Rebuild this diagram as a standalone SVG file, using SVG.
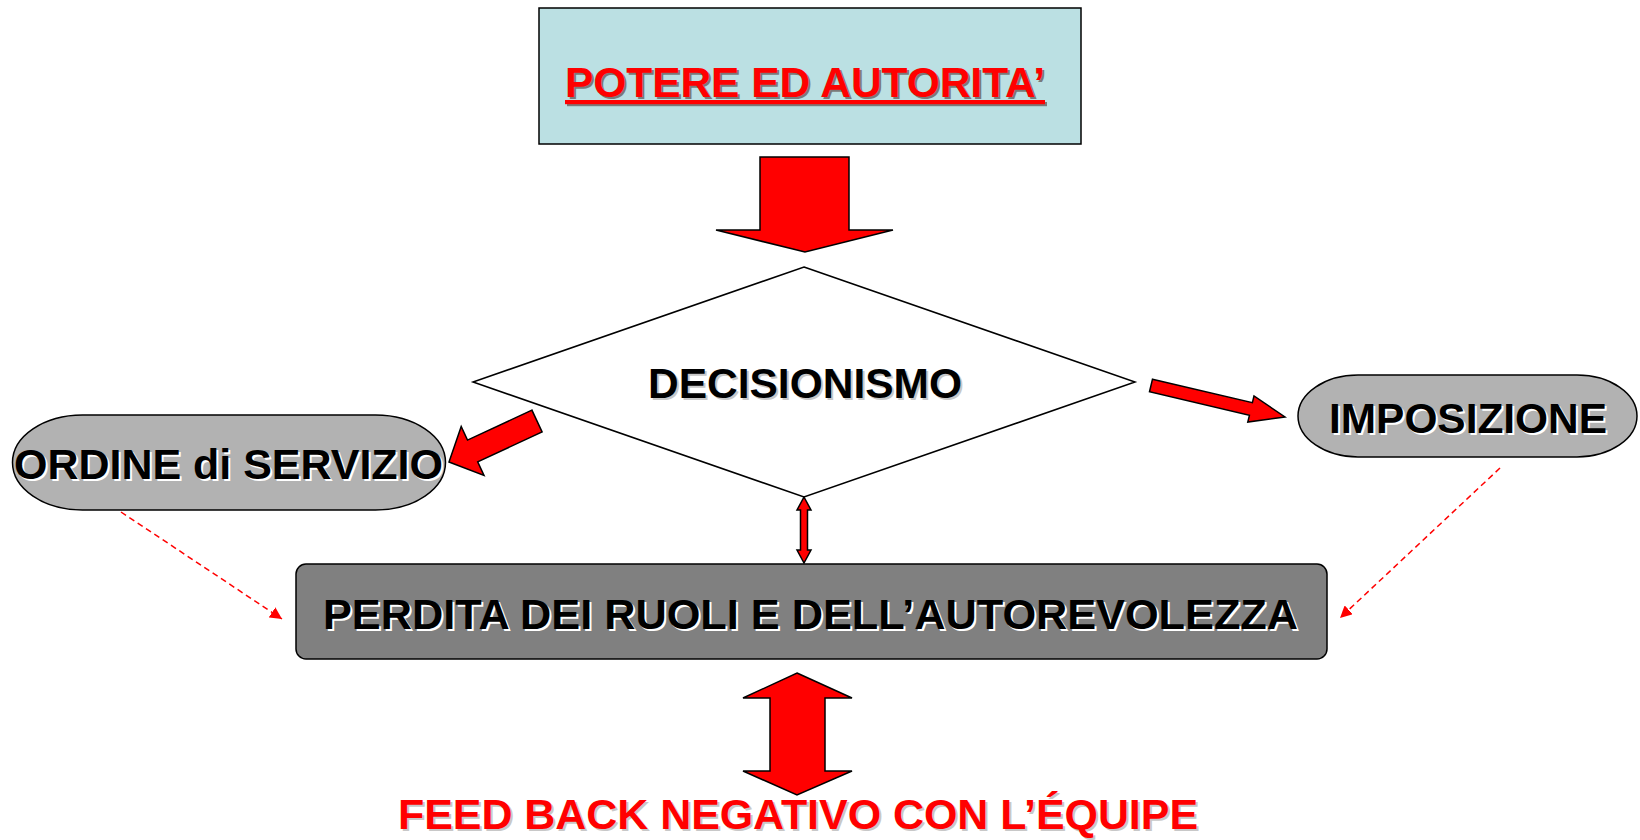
<svg xmlns="http://www.w3.org/2000/svg" width="1640" height="840" viewBox="0 0 1640 840">
  <style>
    .lbl { font-family: "Liberation Sans", Arial, sans-serif; font-weight: bold; font-size: 42px; text-anchor: middle; }
    .shape { stroke: #000; stroke-width: 1.5; }
    .blk { fill: #ff0000; stroke: #000; stroke-width: 1.5; stroke-linejoin: miter; }
    .dash { fill: none; stroke: #ff0000; stroke-width: 1.5; stroke-dasharray: 6 4; }
    .ink { fill: #000; }
    .emb { fill: #ffffff; }
    .red { fill: #ff0000; }
    .sh-dark { fill: #7a7a7a; }
    .sh-light { fill: #c8c8c8; }
  </style>
  <defs>
    <marker id="tri" viewBox="0 0 10 10" refX="10" refY="5" markerWidth="12" markerHeight="12" markerUnits="userSpaceOnUse" orient="auto">
      <path d="M0,0 L10,5 L0,10 z" fill="#ff0000"/>
    </marker>
  </defs>
  <rect width="1640" height="840" fill="#ffffff"/>

  <g id="connectors">
    <polygon class="blk" points="760,157 849,157 849,230 893,230 805,252 716,230 760,230"/>
    <polygon class="blk" points="531.9,410.1 467.5,440.1 461.2,426.5 449,462 484,475.5 477.7,461.9 542.1,431.9"/>
    <polygon class="blk" points="1152.5,379.2 1252.4,402.7 1254,395.9 1285,417 1247.8,422.1 1249.4,415.3 1149.5,391.8"/>
    <polygon class="blk" points="804,497 811,510 807.5,510 807.5,550 811,550 804,563 797,550 800.5,550 800.5,510 797,510"/>
    <polygon class="blk" points="797,673 852,698 825,698 825,771 852,771 797,795 743,771 770,771 770,698 743,698"/>
    <line class="dash" x1="121" y1="512" x2="282" y2="619" marker-end="url(#tri)"/>
    <line class="dash" x1="1500" y1="468" x2="1340" y2="618" marker-end="url(#tri)"/>
  </g>

  <g id="node-potere">
    <rect class="shape" x="539" y="8" width="542" height="136" fill="#bbe0e3"/>
    <text class="lbl sh-dark" x="807" y="99" text-decoration="underline" textLength="480" lengthAdjust="spacingAndGlyphs">POTERE ED AUTORITA’</text>
    <text class="lbl red" x="805" y="97" text-decoration="underline" textLength="480" lengthAdjust="spacingAndGlyphs">POTERE ED AUTORITA’</text>
  </g>

  <g id="node-decisionismo">
    <polygon class="shape" fill="#ffffff" points="804,267 1135,382 804,497 473,382"/>
    <text class="lbl sh-light" x="807" y="400" textLength="314" lengthAdjust="spacingAndGlyphs">DECISIONISMO</text>
    <text class="lbl ink" x="805" y="398" textLength="314" lengthAdjust="spacingAndGlyphs">DECISIONISMO</text>
  </g>

  <g id="node-ordine">
    <rect class="shape" x="12.5" y="415" width="433" height="95" rx="70" ry="47.5" fill="#b2b2b2"/>
    <text class="lbl emb" x="230.5" y="481" textLength="429" lengthAdjust="spacingAndGlyphs">ORDINE di SERVIZIO</text>
    <text class="lbl ink" x="228.5" y="479" textLength="429" lengthAdjust="spacingAndGlyphs">ORDINE di SERVIZIO</text>
  </g>

  <g id="node-imposizione">
    <rect class="shape" x="1298" y="375" width="339" height="82" rx="60" ry="41" fill="#b2b2b2"/>
    <text class="lbl emb" x="1470" y="435" textLength="278" lengthAdjust="spacingAndGlyphs">IMPOSIZIONE</text>
    <text class="lbl ink" x="1468" y="433" textLength="278" lengthAdjust="spacingAndGlyphs">IMPOSIZIONE</text>
  </g>

  <g id="node-perdita">
    <rect class="shape" x="296" y="564" width="1031" height="95" rx="10" ry="10" fill="#808080"/>
    <text class="lbl emb" x="812.5" y="631" textLength="975" lengthAdjust="spacingAndGlyphs">PERDITA DEI RUOLI E DELL’AUTOREVOLEZZA</text>
    <text class="lbl ink" x="810.5" y="629" textLength="975" lengthAdjust="spacingAndGlyphs">PERDITA DEI RUOLI E DELL’AUTOREVOLEZZA</text>
  </g>

  <g id="node-feedback">
    <text class="lbl sh-light" x="800" y="831" textLength="800" lengthAdjust="spacingAndGlyphs">FEED BACK NEGATIVO CON L’ÉQUIPE</text>
    <text class="lbl red" x="798" y="829" textLength="800" lengthAdjust="spacingAndGlyphs">FEED BACK NEGATIVO CON L’ÉQUIPE</text>
  </g>
</svg>
